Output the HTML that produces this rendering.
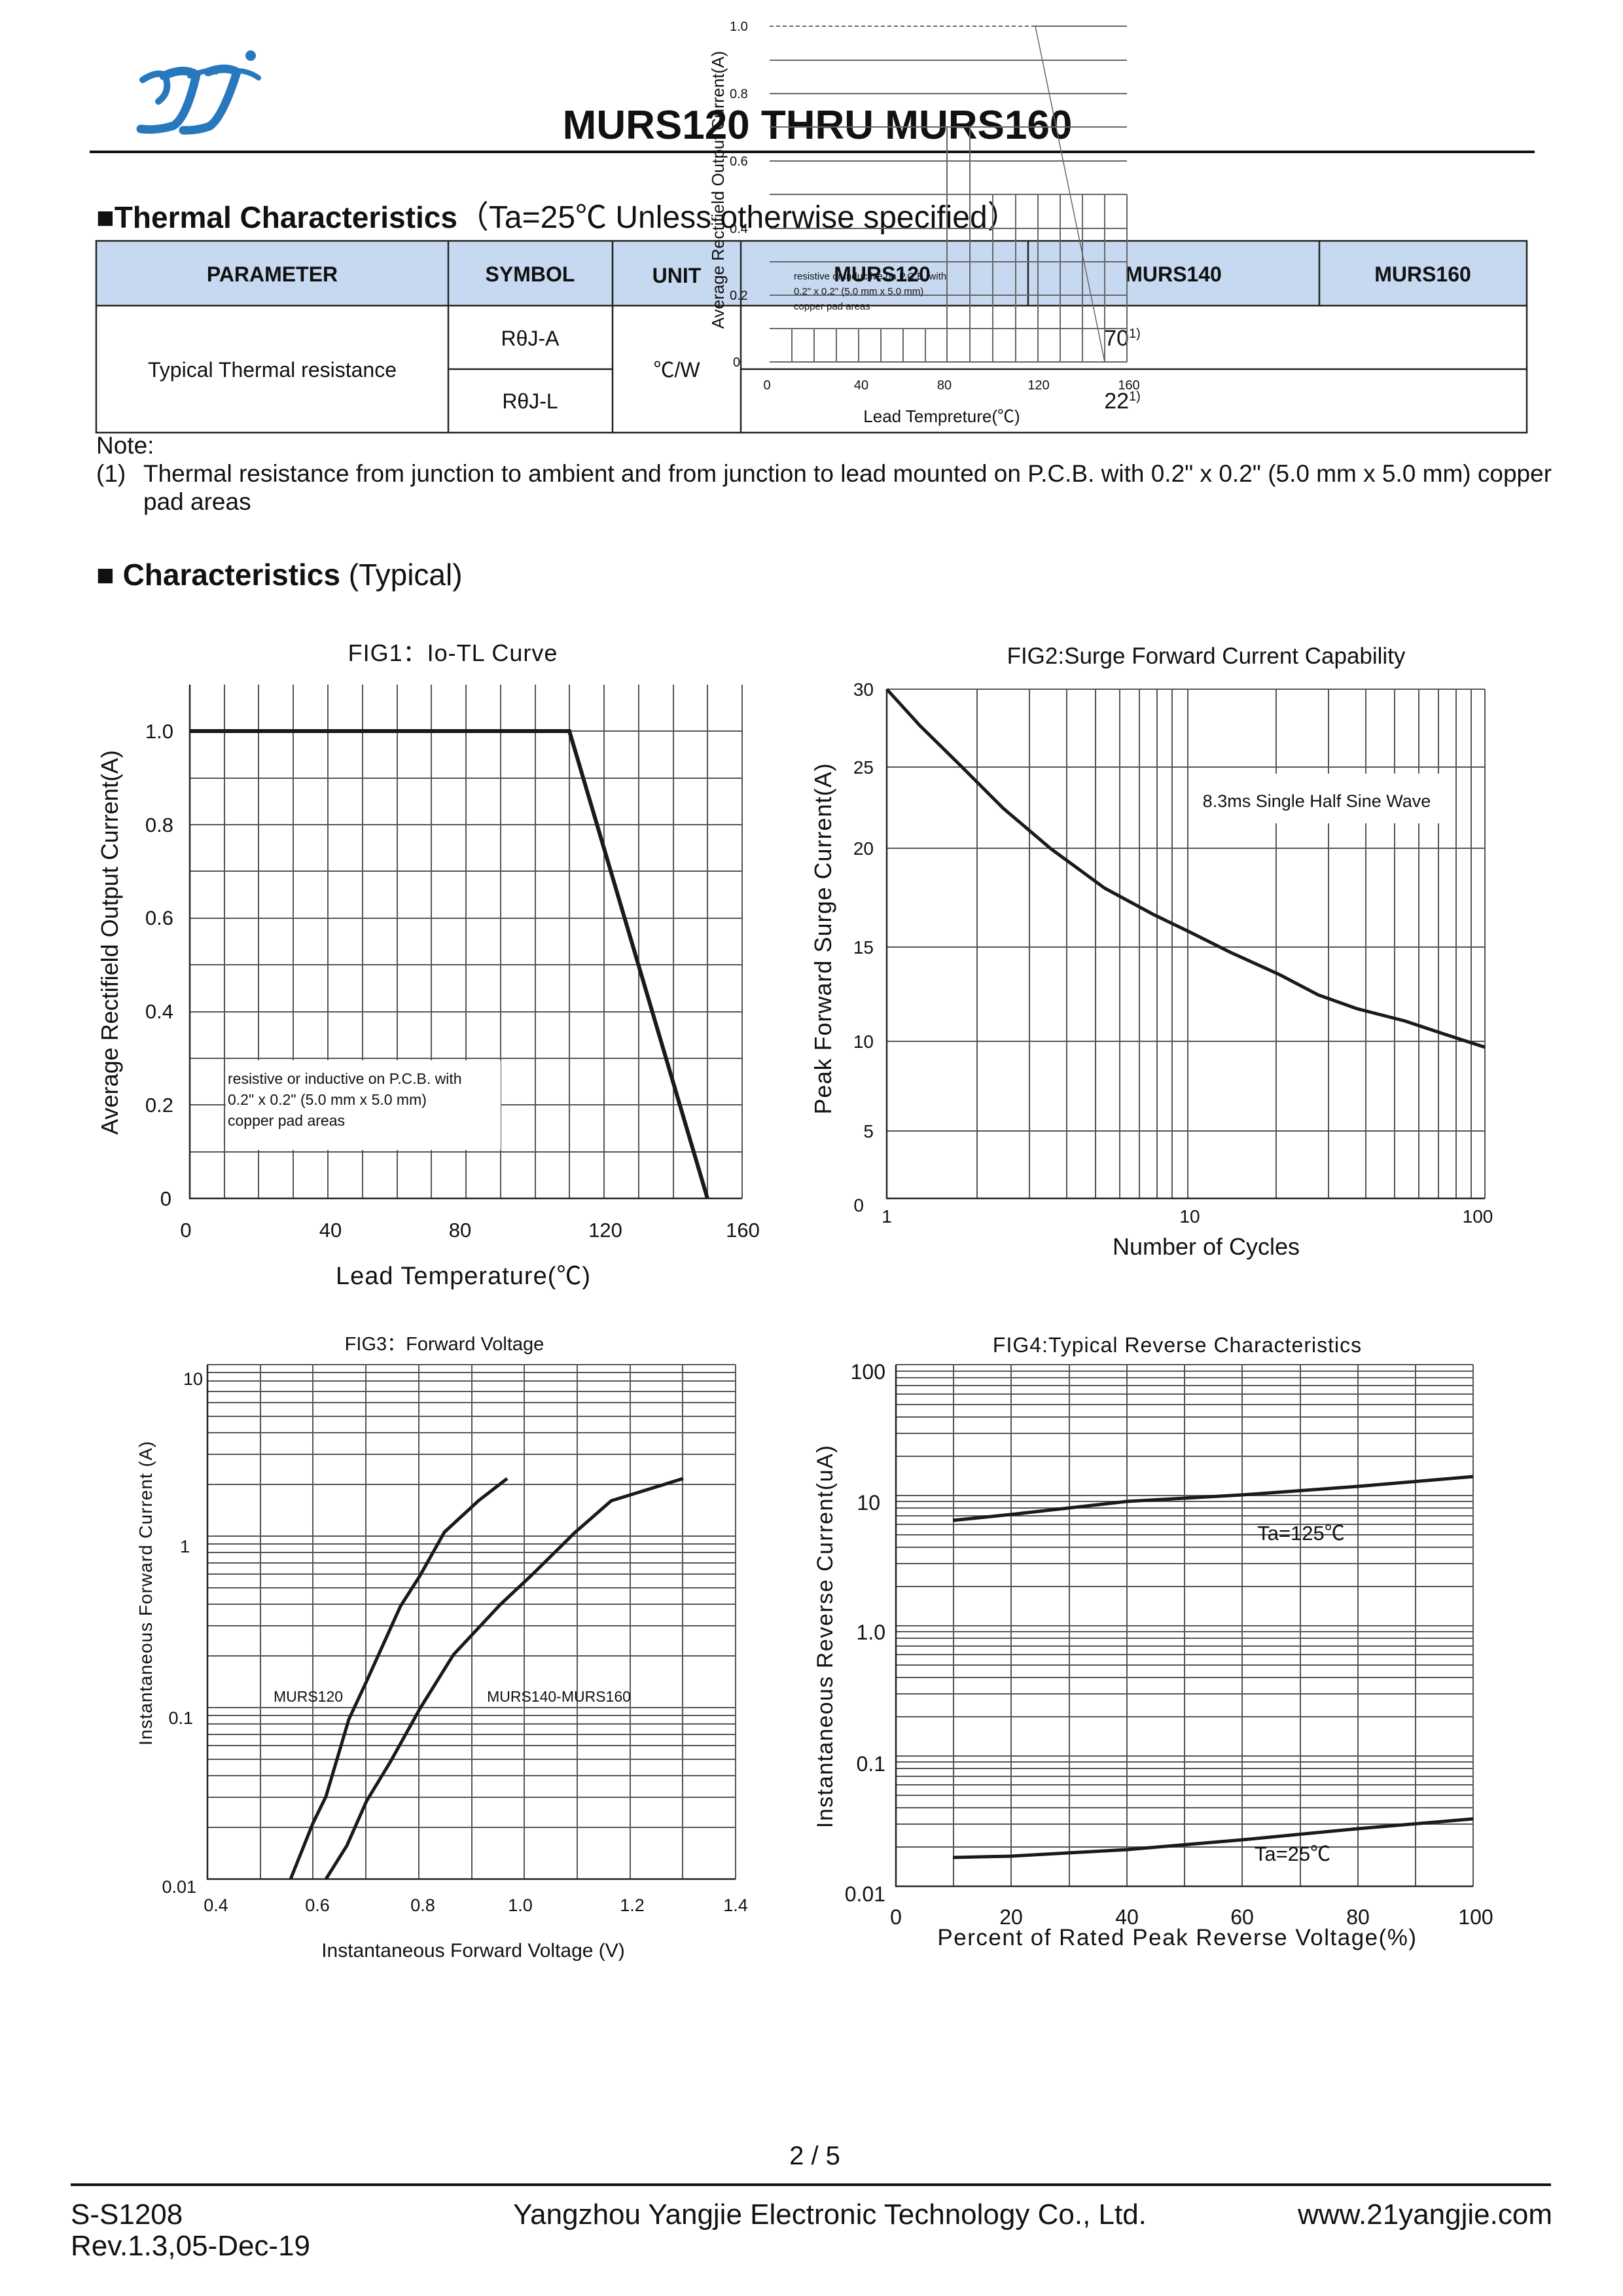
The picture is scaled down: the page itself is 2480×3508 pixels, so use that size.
<!DOCTYPE html>
<html><head><meta charset="utf-8"><style>
html,body{margin:0;padding:0;background:#fff}
svg{display:block}
text{font-family:"Liberation Sans","Noto Sans CJK SC",sans-serif;fill:#111}
</style></head><body>
<svg width="2480" height="3508" viewBox="0 0 2480 3508" xmlns="http://www.w3.org/2000/svg">
<rect width="2480" height="3508" fill="#fff"/>
<!-- logo -->
<g fill="none" stroke="#2878be" stroke-linecap="round">
<path d="M218 122 Q240 108 252 115 Q262 140 242 155" stroke-width="10"/>
<path d="M250 116 Q280 102 300 114 Q285 180 265 192 Q240 200 215 197" stroke-width="13"/>
<path d="M290 116 Q320 104 330 110" stroke-width="8"/>
<path d="M318 110 Q345 100 362 110 Q340 180 320 193 Q300 200 280 199" stroke-width="13"/>
<path d="M360 108 Q380 108 395 119" stroke-width="8"/>
</g>
<circle cx="383" cy="85" r="8" fill="#2878be"/>
<!-- title -->
<text x="1249" y="212" font-size="62" font-weight="bold" text-anchor="middle">MURS120 THRU MURS160</text>
<rect x="137" y="230" width="2208" height="4" fill="#111"/>
<text x="147" y="348" font-size="46" font-weight="bold">■Thermal Characteristics<tspan font-weight="normal" font-size="48">（Ta=25℃ Unless otherwise specified）</tspan></text>
<!-- table -->
<rect x="147" y="368" width="2186" height="99" fill="#c6d9f0"/>
<g stroke="#222" stroke-width="2.5" fill="none">
<rect x="147" y="368" width="2186" height="293"/>
<line x1="147" y1="467" x2="2333" y2="467"/>
<line x1="685" y1="564" x2="936" y2="564"/>
<line x1="1132" y1="564" x2="2333" y2="564"/>
<line x1="685" y1="368" x2="685" y2="661"/>
<line x1="936" y1="368" x2="936" y2="661"/>
<line x1="1132" y1="368" x2="1132" y2="661"/>
<line x1="1571" y1="368" x2="1571" y2="467"/>
<line x1="2016" y1="368" x2="2016" y2="467"/>
</g>
<g font-size="32" font-weight="bold" text-anchor="middle">
<text x="416" y="430">PARAMETER</text><text x="810" y="430">SYMBOL</text><text x="1034" y="432">UNIT</text>
<text x="1348" y="430">MURS120</text><text x="1793" y="430">MURS140</text><text x="2174" y="430">MURS160</text>
</g>
<g font-size="32" text-anchor="middle">
<text x="416" y="576">Typical Thermal resistance</text>
<text x="810" y="528">RθJ-A</text><text x="810" y="624">RθJ-L</text>
<text x="1034" y="576">℃/W</text>
<text x="1715" y="528" font-size="34">70<tspan font-size="20" dy="-12">1)</tspan></text>
<text x="1715" y="624" font-size="34">22<tspan font-size="20" dy="-12">1)</tspan></text>
</g>
<!-- ghost chart -->
<g stroke="#666" stroke-width="2" fill="none">
<line x1="1176" y1="92" x2="1722" y2="92"/><line x1="1176" y1="143" x2="1722" y2="143"/>
<line x1="1176" y1="194" x2="1722" y2="194"/><line x1="1176" y1="246" x2="1722" y2="246"/>
<line x1="1176" y1="297" x2="1722" y2="297"/><line x1="1176" y1="349" x2="1722" y2="349"/>
<line x1="1176" y1="400" x2="1722" y2="400"/><line x1="1176" y1="451" x2="1722" y2="451"/>
<line x1="1176" y1="502" x2="1722" y2="502"/><line x1="1176" y1="553" x2="1722" y2="553"/>
<line x1="1580" y1="40" x2="1722" y2="40"/>
<path d="M1447 194V553M1482 194V553M1517 297V553M1552 297V553M1586 297V553M1620 297V553M1654 297V553M1688 297V553M1722 297V553M1210 502V553M1244 502V553M1278 502V553M1312 502V553M1346 502V553M1380 502V553M1414 502V553"/>
<line x1="1176" y1="40" x2="1580" y2="40" stroke-dasharray="6 4"/>
<line x1="1582" y1="40" x2="1688" y2="553" stroke-width="1.5"/>
</g>
<g font-size="20">
<text x="1115" y="47">1.0</text><text x="1115" y="150">0.8</text><text x="1115" y="253">0.6</text>
<text x="1115" y="356">0.4</text><text x="1115" y="458">0.2</text><text x="1120" y="560">0</text>
<text x="1213" y="427" font-size="15">resistive or inductive on P.C.B. with</text>
<text x="1213" y="450" font-size="15">0.2" x 0.2" (5.0 mm x 5.0 mm)</text>
<text x="1213" y="473" font-size="15">copper pad areas</text>
<text x="1172" y="595" text-anchor="middle">0</text><text x="1316" y="595" text-anchor="middle">40</text>
<text x="1443" y="595" text-anchor="middle">80</text><text x="1587" y="595" text-anchor="middle">120</text>
<text x="1725" y="595" text-anchor="middle">160</text>
<text x="1439" y="645" font-size="26" text-anchor="middle">Lead Tempreture(℃)</text>
<text transform="translate(1106 290) rotate(-90)" font-size="26" text-anchor="middle">Average Rectifield Output Current(A)</text>
</g>
<!-- note -->
<g font-size="37">
<text x="147" y="693">Note:</text>
<text x="147" y="736">(1)</text>
<text x="219" y="736">Thermal resistance from junction to ambient and from junction to lead mounted on P.C.B. with 0.2" x 0.2" (5.0 mm x 5.0 mm) copper</text>
<text x="219" y="779">pad areas</text>
</g>
<text x="147" y="894" font-size="46" font-weight="bold">■ Characteristics <tspan font-weight="normal">(Typical)</tspan></text>

<!-- FIG1 -->
<text x="692" y="1010" font-size="36" text-anchor="middle" letter-spacing="1">FIG1：Io-TL Curve</text>
<g stroke="#555" stroke-width="2" fill="none">
<path d="M290 1760H1134M290 1688H1134M290 1617H1134M290 1546H1134M290 1474H1134M290 1403H1134M290 1331H1134M290 1260H1134M290 1189H1134M290 1117H1134"/>
<path d="M343 1046V1831M395 1046V1831M448 1046V1831M501 1046V1831M554 1046V1831M607 1046V1831M659 1046V1831M712 1046V1831M765 1046V1831M818 1046V1831M870 1046V1831M923 1046V1831M976 1046V1831M1029 1046V1831M1081 1046V1831M1134 1046V1831"/>
</g>
<rect x="345" y="1620" width="420" height="137" fill="#fff"/>
<g stroke="#222" stroke-width="2.5" fill="none"><path d="M290 1046V1831H1134"/></g>
<polyline points="290,1117 870,1117 1081,1831" fill="none" stroke="#1a1a1a" stroke-width="6"/>
<g font-size="23"><text x="348" y="1656">resistive or inductive on P.C.B. with</text><text x="348" y="1688">0.2" x 0.2" (5.0 mm x 5.0 mm)</text><text x="348" y="1720">copper pad areas</text></g>
<g font-size="31" text-anchor="end">
<text x="265" y="1128">1.0</text><text x="265" y="1271">0.8</text><text x="265" y="1413">0.6</text>
<text x="265" y="1556">0.4</text><text x="265" y="1699">0.2</text><text x="262" y="1842">0</text>
</g>
<g font-size="31" text-anchor="middle">
<text x="284" y="1890">0</text><text x="505" y="1890">40</text><text x="703" y="1890">80</text><text x="925" y="1890">120</text><text x="1135" y="1890">160</text>
</g>
<text x="708" y="1962" font-size="38" text-anchor="middle" letter-spacing="1">Lead Temperature(℃)</text>
<text transform="translate(180 1440) rotate(-90)" font-size="36" text-anchor="middle">Average Rectifield Output Current(A)</text>

<!-- FIG2 -->
<text x="1843" y="1014" font-size="35" text-anchor="middle">FIG2:Surge Forward Current Capability</text>
<g stroke="#555" stroke-width="2" fill="none">
<path d="M1355 1053H2269M1355 1172H2269M1355 1296H2269M1355 1447H2269M1355 1591H2269M1355 1728H2269"/>
<path d="M1493 1053V1831M1573 1053V1831M1630 1053V1831M1674 1053V1831M1711 1053V1831M1741 1053V1831M1768 1053V1831M1791 1053V1831M1815 1053V1831M1950 1053V1831M2030 1053V1831M2087 1053V1831M2131 1053V1831M2168 1053V1831M2198 1053V1831M2225 1053V1831M2248 1053V1831M2269 1053V1831"/>
</g>
<rect x="1820" y="1182" width="385" height="76" fill="#fff"/>
<g stroke="#222" stroke-width="2.5" fill="none"><path d="M1355 1053V1831H2269"/></g>
<polyline points="1355,1053 1406,1109 1465,1167 1533,1235 1606,1297 1688,1357 1762,1397 1818,1424 1880,1455 1955,1489 2014,1520 2073,1541 2147,1560 2207,1580 2269,1600" fill="none" stroke="#1a1a1a" stroke-width="5"/>
<text x="2012" y="1233" font-size="27" text-anchor="middle">8.3ms Single Half Sine Wave</text>
<g font-size="28" text-anchor="end">
<text x="1335" y="1063">30</text><text x="1335" y="1182">25</text><text x="1335" y="1306">20</text>
<text x="1335" y="1457">15</text><text x="1335" y="1601">10</text><text x="1335" y="1738">5</text><text x="1320" y="1851">0</text>
</g>
<g font-size="28" text-anchor="middle"><text x="1355" y="1868">1</text><text x="1818" y="1868">10</text><text x="2258" y="1868">100</text></g>
<text x="1843" y="1917" font-size="36" text-anchor="middle">Number of Cycles</text>
<text transform="translate(1270 1434) rotate(-90)" font-size="36" text-anchor="middle" letter-spacing="1">Peak Forward Surge Current(A)</text>

<!-- FIG3 -->
<text x="679" y="2063" font-size="29" text-anchor="middle">FIG3：Forward Voltage</text>
<g stroke="#555" stroke-width="2" fill="none">
<path d="M317 2792H1124M317 2746H1124M317 2713H1124M317 2688H1124M317 2667H1124M317 2650H1124M317 2634H1124M317 2621H1124M317 2609H1124M317 2530H1124M317 2484H1124M317 2451H1124M317 2426H1124M317 2405H1124M317 2388H1124M317 2372H1124M317 2359H1124M317 2347H1124M317 2268H1124M317 2222H1124M317 2189H1124M317 2164H1124M317 2143H1124M317 2126H1124M317 2110H1124M317 2097H1124M317 2085H1124"/>
<path d="M398 2085V2871M478 2085V2871M559 2085V2871M640 2085V2871M721 2085V2871M801 2085V2871M882 2085V2871M963 2085V2871M1043 2085V2871M1124 2085V2871"/>
</g>
<g stroke="#222" stroke-width="2.5" fill="none"><path d="M317 2085V2871H1124"/></g>
<polyline points="444,2871 478,2786 498,2745 533,2627 560,2569 612,2454 642,2407 679,2341 731,2293 775,2259" fill="none" stroke="#1a1a1a" stroke-width="5"/>
<polyline points="498,2871 530,2820 560,2752 597,2691 642,2610 693,2528 765,2451 812,2407 879,2341 934,2293 1044,2259" fill="none" stroke="#1a1a1a" stroke-width="5"/>
<g font-size="23" text-anchor="middle"><text x="471" y="2600">MURS120</text><text x="854" y="2600">MURS140-MURS160</text></g>
<g font-size="27" text-anchor="end">
<text x="310" y="2116">10</text><text x="290" y="2372">1</text><text x="295" y="2634">0.1</text><text x="300" y="2892">0.01</text>
</g>
<g font-size="27" text-anchor="middle">
<text x="330" y="2920">0.4</text><text x="485" y="2920">0.6</text><text x="646" y="2920">0.8</text><text x="795" y="2920">1.0</text><text x="966" y="2920">1.2</text><text x="1124" y="2920">1.4</text>
</g>
<text x="723" y="2990" font-size="30" text-anchor="middle">Instantaneous  Forward Voltage (V)</text>
<text transform="translate(232 2434) rotate(-90)" font-size="28" text-anchor="middle" letter-spacing="1">Instantaneous  Forward Current (A)</text>

<!-- FIG4 -->
<text x="1799" y="2066" font-size="32" text-anchor="middle" letter-spacing="1">FIG4:Typical Reverse Characteristics</text>
<g stroke="#555" stroke-width="2" fill="none">
<path d="M1369 2822H2251M1369 2787H2251M1369 2762H2251M1369 2743H2251M1369 2727H2251M1369 2714H2251M1369 2702H2251M1369 2692H2251M1369 2683H2251M1369 2623H2251M1369 2588H2251M1369 2563H2251M1369 2544H2251M1369 2528H2251M1369 2515H2251M1369 2503H2251M1369 2493H2251M1369 2484H2251M1369 2424H2251M1369 2389H2251M1369 2364H2251M1369 2345H2251M1369 2329H2251M1369 2316H2251M1369 2304H2251M1369 2294H2251M1369 2285H2251M1369 2225H2251M1369 2190H2251M1369 2165H2251M1369 2146H2251M1369 2130H2251M1369 2117H2251M1369 2105H2251M1369 2095H2251M1369 2085H2251"/>
<path d="M1457 2085V2882M1545 2085V2882M1634 2085V2882M1722 2085V2882M1810 2085V2882M1898 2085V2882M1987 2085V2882M2075 2085V2882M2163 2085V2882M2251 2085V2882"/>
</g>
<g stroke="#222" stroke-width="2.5" fill="none"><path d="M1369 2085V2882H2251"/></g>
<polyline points="1456,2323 1544,2314 1722,2294 1898,2284 2075,2271 2251,2256" fill="none" stroke="#1a1a1a" stroke-width="5"/>
<polyline points="1456,2838 1544,2836 1722,2826 1898,2811 2075,2794 2251,2779" fill="none" stroke="#1a1a1a" stroke-width="5"/>
<g font-size="31" text-anchor="middle"><text x="1988" y="2353">Ta=125℃</text><text x="1975" y="2843">Ta=25℃</text></g>
<g font-size="32" text-anchor="end">
<text x="1353" y="2107">100</text><text x="1345" y="2307">10</text><text x="1353" y="2505">1.0</text><text x="1353" y="2706">0.1</text><text x="1353" y="2905">0.01</text>
</g>
<g font-size="32" text-anchor="middle">
<text x="1369" y="2940">0</text><text x="1545" y="2940">20</text><text x="1722" y="2940">40</text><text x="1898" y="2940">60</text><text x="2075" y="2940">80</text><text x="2255" y="2940">100</text>
</g>
<text x="1799" y="2972" font-size="35" text-anchor="middle" letter-spacing="1.5">Percent of Rated Peak Reverse Voltage(%)</text>
<text transform="translate(1272 2500) rotate(-90)" font-size="34" text-anchor="middle" letter-spacing="1.5">Instantaneous Reverse Current(uA)</text>

<!-- footer -->
<text x="1245" y="3307" font-size="40" text-anchor="middle">2 / 5</text>
<rect x="108" y="3336" width="2262" height="4" fill="#111"/>
<g font-size="44">
<text x="108" y="3398">S-S1208</text>
<text x="108" y="3446">Rev.1.3,05-Dec-19</text>
<text x="1268" y="3398" text-anchor="middle">Yangzhou Yangjie Electronic Technology Co., Ltd.</text>
<text x="2372" y="3398" text-anchor="end">www.21yangjie.com</text>
</g>
</svg>
</body></html>
